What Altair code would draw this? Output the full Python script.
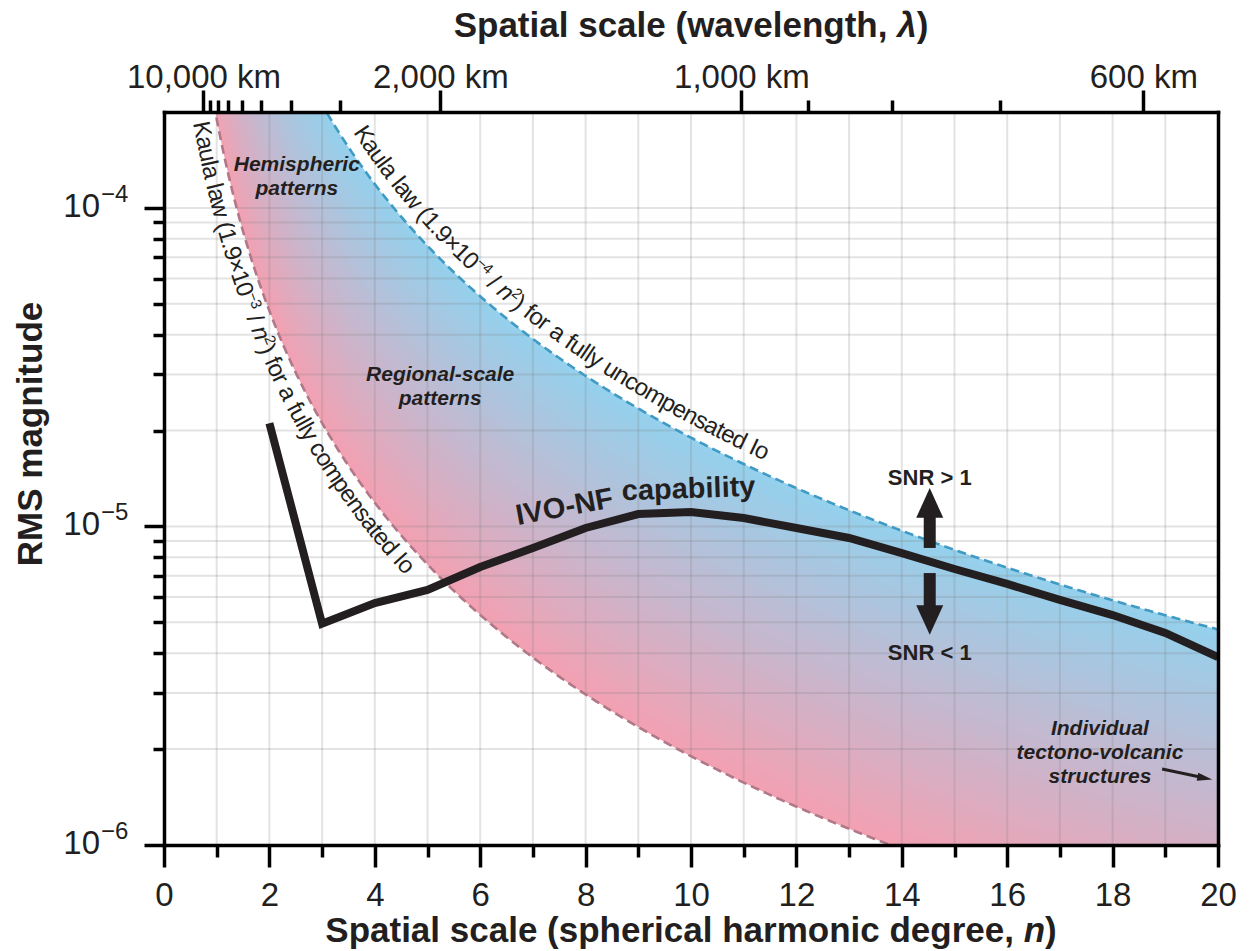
import math
import numpy as np
import pandas as pd
import altair as alt

alt.data_transformers.disable_max_rows()

# ---------------- chart values ----------------
ivo_degree = list(range(2, 21))
ivo_rms = [2.11e-5, 4.95e-6, 5.75e-6, 6.32e-6, 7.46e-6, 8.56e-6, 9.89e-6, 1.094e-5,
           1.110e-5, 1.063e-5, 9.89e-6, 9.20e-6, 8.25e-6, 7.35e-6, 6.60e-6, 5.88e-6,
           5.27e-6, 4.63e-6, 3.89e-6]
kaula_upper_coef = 1.9e-3
kaula_lower_coef = 1.9e-4
io_radius_km = 1821.6
wl_major_km = [10000, 2000, 1000, 600]
wl_major_text = ["10,000 km", "2,000 km", "1,000 km", "600 km"]
wl_minor_km = [9000, 8000, 7000, 6000, 5000, 4000, 3000, 900, 800, 700]
x_tick_values = list(range(0, 21))
y_decade_exponents = [-6, -5, -4]
y_decade_text = ["\u22126", "\u22125", "\u22124"]
y_minor_mult = [1, 2, 3, 4, 5, 6, 7, 8, 9]

upper_label = [("Kaula law (1.9\u00d710", "normal", "base"), ("\u22124", "normal", "sup"),
               (" / ", "normal", "base"), ("n", "italic", "base"), ("2", "normal", "sup"),
               (") for a fully uncompensated Io", "normal", "base")]
lower_label = [("Kaula law (1.9\u00d710", "normal", "base"), ("\u22123", "normal", "sup"),
               (" / ", "normal", "base"), ("n", "italic", "base"), ("2", "normal", "sup"),
               (") for a fully compensated Io", "normal", "base")]

region_text = ["Hemispheric", "patterns", "Regional-scale", "patterns"]
region_n = [2.52, 2.52, 5.24, 5.24]
region_v = [1.305e-4, 1.098e-4, 2.86e-5, 2.406e-5]
struct_text = ["Individual", "tectono-volcanic", "structures"]
struct_n = [17.76, 17.76, 17.76]
struct_v = [2.215e-6, 1.862e-6, 1.565e-6]
snr_text = ["SNR > 1", "SNR < 1"]
snr_n = [14.53, 14.53]
snr_v = [1.349e-5, 3.81e-6]
ivo_label_text = ["IVO-NF", "capability"]
ivo_label_n = [7.63, 9.96]
ivo_label_v = [1.079e-5, 1.228e-5]
ivo_label_angle = [349.5, 358]

# arrows
snr_arrow_n = 14.53
up_shaft = (8.56e-6, 1.086e-5)
up_head = 1.185e-5
down_shaft = (7.14e-6, 5.55e-6)
down_head = 5.085e-6
struct_arrow = dict(n1=18.94, v1=1.731e-6, n2=19.66, v2=1.634e-6, hn=19.75, hv=1.622e-6)

# ---------------- style ----------------
W, H = 1054, 733
PAD = {"left": 164, "top": 112, "right": 32, "bottom": 106}
FONT = "Liberation Sans"
INK = "#231F20"
PINK = (243, 160, 178)
BLUE = (148, 209, 237)
GRID = "#7F7F7F"
Y0, Y1 = 1e-6, 2e-4
LY0, LY1 = math.log10(Y0), math.log10(Y1)

xs = alt.Scale(domain=[0, 20], nice=False, zero=False)
ys = alt.Scale(type="log", domain=[Y0, Y1], nice=False)


def n_from_wl(lam):
    k = 2 * math.pi * io_radius_km / lam
    return (-1 + math.sqrt(1 + 4 * k * k)) / 2


def to_px(n, v):
    return n * W / 20.0, (LY1 - np.log10(v)) / (LY1 - LY0) * H


def to_data(x, y):
    return x * 20.0 / W, 10 ** (LY1 - y / H * (LY1 - LY0))


REG_W = {' ': 278, '(': 333, ')': 333, '.': 278, ',': 278, '/': 278, '-': 333,
         '\u2212': 584, '\u00d7': 584, 'I': 278, 'K': 667, 'a': 556, 'c': 500, 'd': 556,
         'e': 556, 'f': 278, 'l': 222, 'm': 833, 'n': 556, 'o': 556, 'p': 556, 'r': 333,
         's': 500, 't': 278, 'u': 556, 'w': 722, 'y': 500}
BOLD_W = {' ': 278, '(': 333, ')': 333, ',': 278, 'S': 667, 'a': 556, 'c': 556, 'd': 611,
          'e': 556, 'g': 611, 'h': 611, 'i': 278, 'l': 278, 'm': 889, 'n': 611, 'o': 611,
          'p': 611, 'r': 389, 's': 556, 't': 333, 'v': 556, 'w': 778, '\u03bb': 556}


def text_w(s, table, size):
    return sum(table.get(c, 556) for c in s) * size / 1000.0


def curve_text(coef, pieces, n0, n1, offset, size=24, sup_size=15, rise=9):
    ns = np.linspace(n0, n1, 3000)
    x, y = to_px(ns, coef / ns ** 2)
    th = np.arctan2(np.gradient(y), np.gradient(x))
    bx, by = x + np.sin(th) * offset, y - np.cos(th) * offset
    s = np.concatenate([[0], np.cumsum(np.hypot(np.diff(bx), np.diff(by)))])
    chars = []
    for txt, style, kind in pieces:
        fs = size if kind == "base" else sup_size
        rs = 0 if kind == "base" else rise
        for c in txt:
            chars.append((c, style, fs, rs, REG_W.get(c, 556) * fs / 1000.0))
    f = s[-1] / sum(c[4] for c in chars)
    rows, acc = [], 0.0
    for c, style, fs, rs, w in chars:
        sc = (acc + w / 2) * f
        acc += w
        if c == ' ':
            continue
        xi, yi, ti = np.interp(sc, s, bx), np.interp(sc, s, by), np.interp(sc, s, th)
        xi, yi = xi + math.sin(ti) * rs, yi - math.cos(ti) * rs
        nn, vv = to_data(xi, yi)
        rows.append(dict(n=float(nn), v=float(vv), ch=c, fs=fs,
                         ang=math.degrees(ti) % 360, style=style))
    return rows


# ---------------- data frames ----------------
n_grid = np.concatenate([np.arange(0.9, 5.0, 0.025), np.arange(5.0, 20.0001, 0.1)])
K = 48
band_rows = []
for k in range(K):
    t0 = k / K
    t1 = min(1.0, (k + 1) / K + 0.008)
    fr = (k + 0.5) / K
    col = '#%02x%02x%02x' % tuple(int(round(PINK[i] + (BLUE[i] - PINK[i]) * fr)) for i in range(3))
    lo = kaula_lower_coef * 10 ** t0 / n_grid ** 2
    hi = kaula_lower_coef * 10 ** t1 / n_grid ** 2
    for nn, a, b in zip(n_grid, lo, hi):
        if b >= 4e-7 and a <= 5e-4:
            band_rows.append({"band": k, "n": float(nn), "lo": float(a), "hi": float(b), "col": col})
band_df = pd.DataFrame(band_rows)

n_line = np.arange(0.9, 20.0001, 0.02)
curve_rows = []
for name, coef in [("upper", kaula_upper_coef), ("lower", kaula_lower_coef)]:
    for nn in n_line:
        v = coef / nn ** 2
        if 4e-7 <= v <= 5e-4:
            curve_rows.append({"curve": name, "n": float(nn), "v": float(v)})
curve_df = pd.DataFrame(curve_rows)

ivo_df = pd.DataFrame({"n": ivo_degree, "v": ivo_rms})

y_tick_values = [m * 10.0 ** e for e in [-6, -5] for m in y_minor_mult] + [1e-4]
grid_v_df = pd.DataFrame({"n": x_tick_values[1:-1]})
grid_h_df = pd.DataFrame({"v": y_tick_values[1:]})

major_ns = [n_from_wl(l) for l in wl_major_km]
minor_ns = [n_from_wl(l) for l in wl_minor_km]
top_values = sorted(major_ns + minor_ns)
major_test = " || ".join(f"abs(datum.value - {nv!r}) < 1e-6" for nv in major_ns)
top_label_expr = " : ".join(f"abs(datum.value - {nv!r}) < 1e-6 ? '{t}'"
                            for nv, t in zip(major_ns, wl_major_text)) + " : ''"

kaula_df = pd.DataFrame(
    curve_text(kaula_upper_coef, upper_label, 3.4, 11.3, 12)
    + curve_text(kaula_lower_coef, lower_label, 1.0, 4.9, -24))

# ---------------- axes ----------------
bottom_axis = alt.Axis(
    orient="bottom", values=x_tick_values,
    labelExpr="datum.value % 2 === 0 ? datum.label : ''",
    tickSize={"condition": {"test": "datum.value % 2 === 0", "value": 22}, "value": 12},
    tickWidth=3.5, tickColor="black", domainColor="black", domainWidth=3.5,
    domainCap="square", labelFont=FONT, labelFontSize=33, labelColor=INK,
    labelBaseline="alphabetic", labelPadding=38, labelFlush=False, labelOverlap=False,
    grid=False, title=None, zindex=1)
left_axis = alt.Axis(
    orient="left", values=y_tick_values, labels=False,
    tickSize={"condition": {"test": "abs(log(datum.value)/LN10 - round(log(datum.value)/LN10)) < 0.001",
                            "value": 20}, "value": 11},
    tickWidth=3.5, tickColor="black", domainColor="black", domainWidth=3.5,
    domainCap="square", grid=False, title=None, zindex=1)
top_axis = alt.Axis(
    orient="top", values=top_values, labelExpr=top_label_expr,
    tickSize={"condition": {"test": major_test, "value": 22}, "value": 12},
    tickWidth=3.5, tickColor="black", domainColor="black", domainWidth=3.5,
    domainCap="square", labelFont=FONT, labelFontSize=33, labelColor=INK,
    labelBaseline="alphabetic", labelPadding=3, labelFlush=False, labelOverlap=False,
    grid=False, title=None, zindex=1)
right_axis = alt.Axis(
    orient="right", labels=False, ticks=False, domainColor="black", domainWidth=3.5,
    domainCap="square", grid=False, title=None, zindex=1)

Xn = lambda: alt.X("n:Q", scale=xs, axis=None)
Yv = lambda: alt.Y("v:Q", scale=ys, axis=None)

# ---------------- layers ----------------
bands = alt.Chart(band_df).mark_area(clip=True).encode(
    x=alt.X("n:Q", scale=xs, axis=bottom_axis),
    y=alt.Y("lo:Q", scale=ys, axis=left_axis),
    y2="hi:Q",
    color=alt.Color("col:N", scale=None, legend=None),
    detail="band:N")

grid_v = alt.Chart(grid_v_df).mark_rule(color=GRID, opacity=0.22, strokeWidth=2).encode(
    x=alt.X("n:Q", scale=xs, axis=top_axis))
grid_h = alt.Chart(grid_h_df).mark_rule(color=GRID, opacity=0.22, strokeWidth=2).encode(
    y=alt.Y("v:Q", scale=ys, axis=right_axis))

upper_line = alt.Chart(curve_df).transform_filter(alt.datum.curve == "upper").mark_line(
    clip=True, color="#3F9AC4", strokeWidth=2.6, strokeDash=[9, 5]).encode(x=Xn(), y=Yv())
lower_line = alt.Chart(curve_df).transform_filter(alt.datum.curve == "lower").mark_line(
    clip=True, color="#B07888", strokeWidth=2.6, strokeDash=[9, 5]).encode(x=Xn(), y=Yv())

ivo_line = alt.Chart(ivo_df).mark_line(color=INK, strokeWidth=8, strokeJoin="miter").encode(
    x=Xn(), y=Yv())

arrow_df = pd.DataFrame({"n": [snr_arrow_n, snr_arrow_n],
                         "v1": [up_shaft[0], down_shaft[0]], "v2": [up_shaft[1], down_shaft[1]]})
shafts = alt.Chart(arrow_df).mark_rule(color=INK, strokeWidth=12).encode(
    x=Xn(), y=alt.Y("v1:Q", scale=ys, axis=None), y2="v2:Q")
head_up = alt.Chart(pd.DataFrame({"n": [snr_arrow_n], "v": [up_head]})).mark_point(
    shape="M0,-1.1L1,1.1L-1,1.1Z", filled=True, size=729, color=INK, opacity=1, strokeWidth=0
).encode(x=Xn(), y=Yv())
head_down = alt.Chart(pd.DataFrame({"n": [snr_arrow_n], "v": [down_head]})).mark_point(
    shape="M0,1.1L1,-1.1L-1,-1.1Z", filled=True, size=729, color=INK, opacity=1, strokeWidth=0
).encode(x=Xn(), y=Yv())

sa = struct_arrow
s_shaft = alt.Chart(pd.DataFrame({"n": [sa["n1"]], "n2": [sa["n2"]], "v": [sa["v1"]], "v2": [sa["v2"]]})
                    ).mark_rule(color=INK, strokeWidth=3).encode(
    x=Xn(), x2="n2:Q", y=Yv(), y2="v2:Q")
s_head = alt.Chart(pd.DataFrame({"n": [sa["hn"]], "v": [sa["hv"]]})).mark_point(
    shape="M1.1,0L-1.1,-0.6L-1.1,0.6Z", filled=True, size=185, angle=11, color=INK,
    opacity=1, strokeWidth=0).encode(x=Xn(), y=Yv())

kbase = alt.Chart(kaula_df).encode(
    x=Xn(), y=Yv(), text="ch:N",
    angle=alt.Angle("ang:Q", scale=None),
    size=alt.Size("fs:Q", scale=None, legend=None))
k_norm = kbase.transform_filter(alt.datum.style == "normal").mark_text(
    align="center", baseline="alphabetic", font=FONT, color=INK)
k_ital = kbase.transform_filter(alt.datum.style == "italic").mark_text(
    align="center", baseline="alphabetic", font=FONT, fontStyle="italic", color=INK)

region = alt.Chart(pd.DataFrame({"n": region_n, "v": region_v, "t": region_text})).mark_text(
    align="center", baseline="alphabetic", font=FONT, fontSize=21, fontWeight="bold",
    fontStyle="italic", color=INK).encode(x=Xn(), y=Yv(), text="t:N")
struct = alt.Chart(pd.DataFrame({"n": struct_n, "v": struct_v, "t": struct_text})).mark_text(
    align="center", baseline="alphabetic", font=FONT, fontSize=21, fontWeight="bold",
    fontStyle="italic", color=INK).encode(x=Xn(), y=Yv(), text="t:N")
snr = alt.Chart(pd.DataFrame({"n": snr_n, "v": snr_v, "t": snr_text})).mark_text(
    align="center", baseline="alphabetic", font=FONT, fontSize=22, fontWeight="bold",
    color=INK).encode(x=Xn(), y=Yv(), text="t:N")
ivo_text = alt.Chart(pd.DataFrame({"n": ivo_label_n, "v": ivo_label_v, "t": ivo_label_text,
                                   "a": ivo_label_angle})).mark_text(
    align="center", baseline="alphabetic", font=FONT, fontSize=29, fontWeight="bold",
    color=INK).encode(x=Xn(), y=Yv(), text="t:N", angle=alt.Angle("a:Q", scale=None))

ylab_df = pd.DataFrame({"v": [10.0 ** e for e in y_decade_exponents], "exp": y_decade_text})
ylab_ten = alt.Chart(ylab_df).mark_text(
    align="right", baseline="middle", font=FONT, fontSize=33, color=INK, dy=-1).encode(
    x=alt.value(-64), y=Yv(), text=alt.value("10"))
ylab_exp = alt.Chart(ylab_df).mark_text(
    align="left", baseline="middle", font=FONT, fontSize=24, color=INK, dy=-13).encode(
    x=alt.value(-63), y=Yv(), text="exp:N")

one = pd.DataFrame({"k": [0]})


def title_parts(parts, baseline_y, size=35):
    total = sum(text_w(t, BOLD_W, size) for t, _ in parts)
    x0 = W / 2 - total / 2
    layers = []
    for t, style in parts:
        layers.append(alt.Chart(one).mark_text(
            align="left", baseline="alphabetic", font=FONT, fontSize=size, fontWeight="bold",
            fontStyle=style, color=INK).encode(
            x=alt.value(x0), y=alt.value(baseline_y), text=alt.value(t)))
        x0 += text_w(t, BOLD_W, size)
    return layers


bottom_title = title_parts([("Spatial scale (spherical harmonic degree, ", "normal"),
                            ("n", "italic"), (")", "normal")], H + 97)
top_title = title_parts([("Spatial scale (wavelength, ", "normal"),
                         ("\u03bb", "italic"), (")", "normal")], -75)
left_title = alt.Chart(one).mark_text(
    align="center", baseline="alphabetic", font=FONT, fontSize=35, fontWeight="bold",
    angle=270, color=INK).encode(x=alt.value(-122), y=alt.value(322), text=alt.value("RMS magnitude"))

chart = alt.layer(
    bands, grid_v, grid_h, upper_line, lower_line, ivo_line, shafts, head_up, head_down,
    s_shaft, s_head, k_norm, k_ital, region, struct, snr, ivo_text, ylab_ten, ylab_exp,
    *bottom_title, *top_title, left_title
).resolve_axis(x="independent", y="independent").properties(
    width=W, height=H, background="white",
    autosize=alt.AutoSizeParams(type="none"), padding=PAD
).configure_view(strokeWidth=0)

chart.save("out.html", embed_options={"renderer": "svg", "actions": False})
